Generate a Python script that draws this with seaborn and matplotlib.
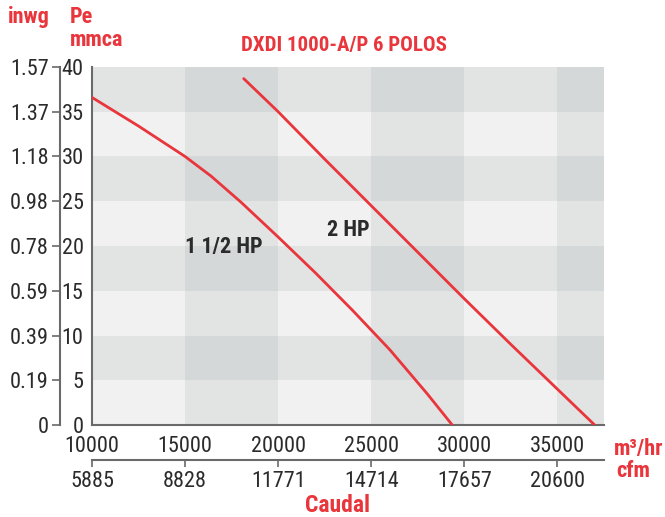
import numpy as np
import pandas as pd
import matplotlib.pyplot as plt
from matplotlib.colors import ListedColormap
import seaborn as sns

# curve data (caudal m3/hr vs Pe mmca)
hp15_flow = [10000, 12500, 15000, 16400, 18000, 20000, 22000, 24000, 26000, 28000, 29350]
hp15_pres = [36.6, 33.4, 30.0, 27.8, 24.9, 21.0, 17.0, 12.8, 8.4, 3.5, 0]
hp2_flow = [18150, 20000, 22500, 25000, 27500, 30000, 32500, 35000, 37000]
hp2_pres = [38.7, 35.0, 29.7, 24.5, 19.3, 14.1, 9.0, 4.0, 0]

# axes ticks
m3_ticks = [10000, 15000, 20000, 25000, 30000, 35000]
cfm_labels = ["5885", "8828", "11771", "14714", "17657", "20600"]
pe_ticks = [0, 5, 10, 15, 20, 25, 30, 35, 40]
inwg_labels = ["0", "0.19", "0.39", "0.59", "0.78", "0.98", "1.18", "1.37", "1.57"]

# background band edges
x_edges = [10000, 15000, 20000, 25000, 30000, 35000, 37500]
y_edges = [0, 5, 10, 15, 20, 25, 30, 35, 40]

RED = "#e8363c"
DARK = "#2b2b2b"
SPINE = "#6a6a6a"

sns.set_theme(style="white")
plt.rcParams['font.family'] = ['Roboto Condensed', 'Archivo Narrow', 'PT Sans Narrow',
                               'Liberation Sans Narrow', 'Oswald', 'DejaVu Sans']

W, H = 665, 517
fig = plt.figure(figsize=(W / 100, H / 100), dpi=100)
ax = fig.add_axes([92 / W, 1 - 425 / H, 512 / W, 358 / H])

# checkered background: column parity + row parity
xi = np.arange(len(x_edges) - 1)
yi = np.arange(len(y_edges) - 1)
shade = (xi[None, :] % 2) + (yi[:, None] % 2)
bg_cmap = ListedColormap(["#f0f1f0", "#e2e4e4", "#d5d8d9"])
ax.pcolormesh(x_edges, y_edges, shade, cmap=bg_cmap, vmin=0, vmax=2, zorder=0)

df = pd.concat([
    pd.DataFrame({"caudal": hp15_flow, "pe": hp15_pres, "motor": "1 1/2 HP"}),
    pd.DataFrame({"caudal": hp2_flow, "pe": hp2_pres, "motor": "2 HP"}),
])
sns.lineplot(data=df, x="caudal", y="pe", units="motor", estimator=None, sort=False,
             color=RED, linewidth=2.0, ax=ax, zorder=3)

ax.set_xlim(10000, 37500)
ax.set_ylim(0, 40)
ax.set_xlabel("")
ax.set_ylabel("")
for s in ["top", "right"]:
    ax.spines[s].set_visible(False)
for s in ["left", "bottom"]:
    ax.spines[s].set_color(SPINE)
    ax.spines[s].set_linewidth(1.5)

ax.set_xticks(m3_ticks)
ax.set_xticklabels([str(v) for v in m3_ticks])
ax.set_yticks(pe_ticks)
ax.set_yticklabels([str(v) for v in pe_ticks])
ax.tick_params(axis="both", direction="out", colors=SPINE, labelcolor=DARK,
               labelsize=16, width=1.2)
ax.tick_params(axis="y", length=4, pad=2)
ax.tick_params(axis="x", length=5, pad=3)

# secondary y axis (inwg)
sec_y = ax.secondary_yaxis(-32 / 512)
sec_y.set_yticks(pe_ticks, labels=inwg_labels)
sec_y.tick_params(direction="out", length=6, width=1.2, colors=SPINE,
                  labelcolor=DARK, labelsize=16, pad=2)
sec_y.spines["left"].set_color(SPINE)
sec_y.spines["left"].set_linewidth(1.5)

# secondary x axis (cfm)
sec_x = ax.secondary_xaxis(-35 / 358)
sec_x.set_xticks(m3_ticks, labels=cfm_labels)
sec_x.tick_params(direction="out", length=5, width=1.2, colors=SPINE,
                  labelcolor=DARK, labelsize=16, pad=3)
sec_x.spines["bottom"].set_color(SPINE)
sec_x.spines["bottom"].set_linewidth(1.5)

# curve labels
ax.text(15000, 19.9, "1 1/2 HP", fontsize=16, fontweight="bold", color=DARK,
        va="center", ha="left", zorder=4)
ax.text(22600, 21.8, "2 HP", fontsize=16, fontweight="bold", color=DARK,
        va="center", ha="left", zorder=4)

# titles and units
def ftxt(x, y, s, size=16, **kw):
    fig.text(x / W, 1 - y / H, s, color=RED, fontweight="bold", fontsize=size, **kw)

ftxt(344, 45, "DXDI 1000-A/P 6 POLOS", size=15, ha="center", va="center")
ftxt(8, 17, "inwg", ha="left", va="center")
ftxt(70, 17, "Pe", ha="left", va="center")
ftxt(70, 40, "mmca", ha="left", va="center")
ftxt(614, 449, "m³/hr", ha="left", va="center")
ftxt(616, 471, "cfm", ha="left", va="center")
ftxt(337, 505, "Caudal", size=17, ha="center", va="center")

fig.savefig("out.png", dpi=100)
